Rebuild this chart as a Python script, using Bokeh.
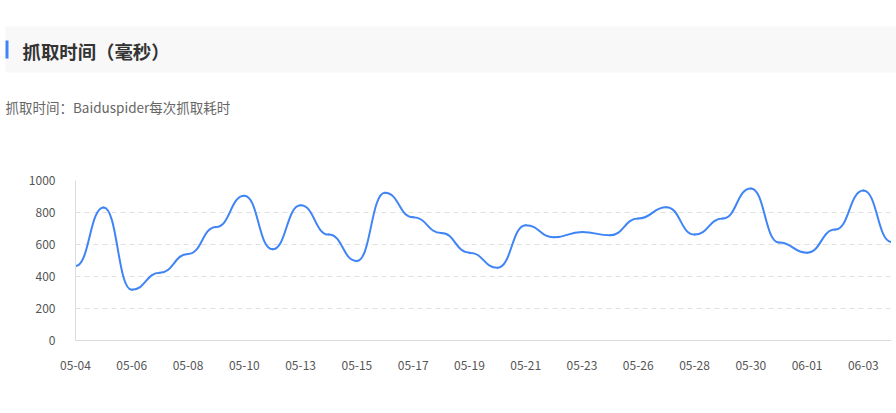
import numpy as np
from bokeh.plotting import figure
from bokeh.layouts import column, row
from bokeh.models import Range1d, FixedTicker, ColumnDataSource
from bokeh.core.properties import value
from bokeh.embed import file_html
from bokeh.resources import INLINE

# ---- data ----
dates = ["05-04", "05-05", "05-06", "05-07", "05-08", "05-09", "05-10", "05-11",
         "05-13", "05-14", "05-15", "05-16", "05-17", "05-18", "05-19", "05-20",
         "05-21", "05-22", "05-23", "05-25", "05-26", "05-27", "05-28", "05-29",
         "05-30", "05-31", "06-01", "06-02", "06-03", "06-04"]
crawl_ms = [466, 831, 317, 424, 541, 710, 904, 570, 845, 662, 497, 923, 770, 672,
            549, 455, 720, 645, 678, 658, 762, 833, 662, 762, 950, 612, 549, 693,
            937, 616]
y_ticks = [0, 200, 400, 600, 800, 1000]
title_text = "抓取时间（毫秒）"
subtitle_text = "抓取时间：Baiduspider每次抓取耗时"

FONT = "Noto Sans CJK SC"
BLUE = "#4085f5"
HW, HH = 896, 120
W, H = 891, 280

# ---- header figure (band, accent bar, title, subtitle) ----
head = figure(width=HW, height=HH, output_backend="svg", toolbar_location=None,
              x_range=Range1d(0, HW), y_range=Range1d(HH, 0),
              x_axis_location=None, y_axis_location=None,
              min_border=0, min_border_left=0, min_border_right=0,
              min_border_top=0, min_border_bottom=0)
head.grid.visible = False
head.outline_line_color = None
head.quad(left=[5], right=[HW], top=[26], bottom=[72], fill_color="#f8f8f8",
          line_color=None)
head.quad(left=[5], right=[8], top=[40], bottom=[58], fill_color=BLUE,
          line_color=None)
head.text(x=[22], y=[50], text=[title_text], text_font=value(FONT),
          text_font_size="18.4px", text_font_style="bold", text_color="#333333",
          text_baseline="middle", text_align="left")
head.text(x=[5], y=[106], text=[subtitle_text], text_font=value(FONT),
          text_font_size="13.5px", text_color="#666666",
          text_baseline="middle", text_align="left")

# ---- smooth curve: horizontal tangents at each point (monotone-x style) ----
n = len(crawl_ms)
xi = np.arange(n, dtype=float)
yv = np.array(crawl_ms, dtype=float)
smooth = 0.5
seg = ColumnDataSource(dict(
    x0=xi[:-1], y0=yv[:-1], x1=xi[1:], y1=yv[1:],
    cx0=xi[:-1] + smooth, cy0=yv[:-1],
    cx1=xi[1:] - smooth, cy1=yv[1:],
))

p = figure(width=W, height=H, output_backend="svg", toolbar_location=None,
           x_range=Range1d(0, n - 1), y_range=Range1d(0, 1000),
           min_border_left=75, min_border_right=0, min_border_top=60,
           min_border_bottom=60)
p.outline_line_color = None
p.background_fill_color = "white"
p.border_fill_color = "white"

p.bezier(x0="x0", y0="y0", x1="x1", y1="y1", cx0="cx0", cy0="cy0",
         cx1="cx1", cy1="cy1", source=seg, line_color=BLUE, line_width=2,
         line_cap="round")

for ax in (p.xaxis[0], p.yaxis[0]):
    ax.axis_line_color = "#dcdcdc"
    ax.axis_line_width = 1
    ax.major_tick_line_color = None
    ax.minor_tick_line_color = None
    ax.major_tick_out = 0
    ax.major_tick_in = 0
    ax.minor_tick_out = 0
    ax.major_label_text_font = FONT
    ax.major_label_text_font_size = "12px"
    ax.major_label_text_color = "#555555"

p.yaxis.ticker = FixedTicker(ticks=y_ticks)
p.yaxis.major_label_standoff = 20
p.xaxis.ticker = FixedTicker(ticks=list(range(0, n, 2)))
p.xaxis.major_label_overrides = {i: d for i, d in enumerate(dates)}
p.xaxis.major_label_standoff = 20

p.xgrid.visible = False
p.ygrid.grid_line_color = "#e0e0e0"
p.ygrid.grid_line_dash = "5 4"
p.ygrid.grid_line_width = 1

page = column(row(head), p, spacing=0)
open("out.html", "w").write(file_html(page, INLINE))
